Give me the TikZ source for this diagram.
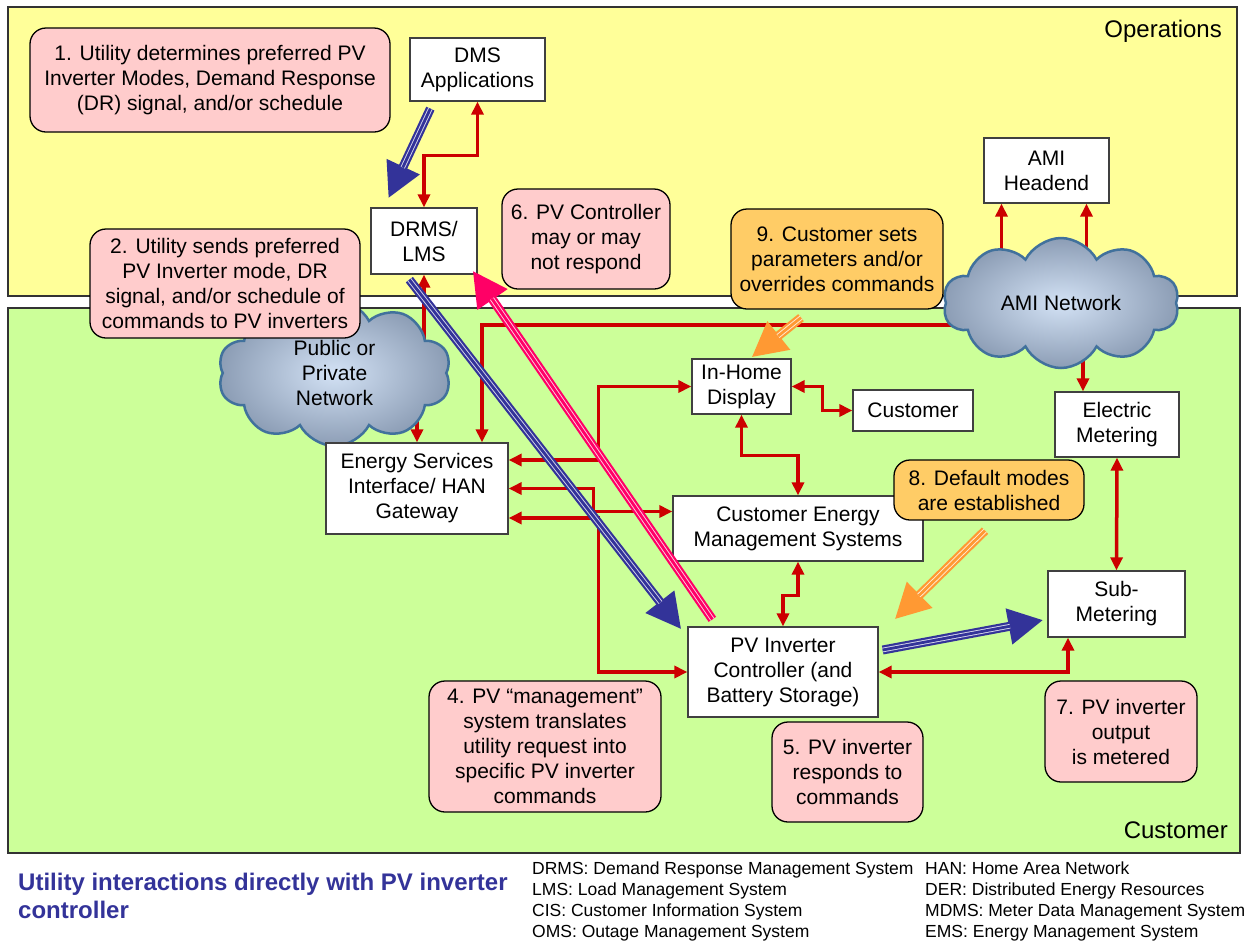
\documentclass[tikz,border=0pt]{standalone}
\usepackage{fontspec}
\setmainfont{Liberation Sans}
\usetikzlibrary{calc,arrows.meta,shapes.symbols}

\definecolor{opyellow}{HTML}{FFFF99}
\definecolor{cugreen}{HTML}{CCFF99}
\definecolor{notepink}{HTML}{FFCCCC}
\definecolor{steporange}{HTML}{FFCC66}
\definecolor{linkred}{HTML}{CC0000}
\definecolor{pushblue}{HTML}{333399}
\definecolor{replymag}{HTML}{FF0066}
\definecolor{userorange}{HTML}{FF9933}
\definecolor{cloudedge}{HTML}{41719C}
\definecolor{cloudlight}{HTML}{D3E2F5}
\definecolor{clouddark}{HTML}{8C9DB5}

\pgfdeclarelayer{back}
\pgfdeclarelayer{links}
\pgfsetlayers{back,links,main}

\def\triarrow[#1](#2)(#3){%
  \draw[line width=9pt, color=#1, -{Triangle[length=35pt,width=34pt]}] (#2) -- (#3);
  \draw[line width=4.6pt, color=white!80!#1, shorten >=34pt] (#2) -- (#3);
  \draw[line width=2.8pt, color=#1, shorten >=34pt] (#2) -- (#3);}

\begin{document}
\begin{tikzpicture}[x=1pt, y=-1pt,
    >={Triangle[length=13pt,width=12pt]},
    conn/.style={draw=linkred, line width=3.5pt},
    box/.style={draw=black!75, fill=white, line width=1.3pt, inner sep=0pt, align=center, font=\fontsize{21}{25}\selectfont},
    note/.style={box, fill=notepink, draw=black, rounded corners=16pt},
    task/.style={note, fill=steporange},
    cloudnet/.style={cloud, cloud puffs=10, cloud puff arc=125, cloud ignores aspect, draw=cloudedge, line width=2.5pt, inner color=cloudlight, outer color=clouddark, inner sep=0pt, align=center, font=\fontsize{21}{25}\selectfont},
    region/.style={draw=black!80, line width=1.5pt}]

    %%%%% FRAME %%%%%
    \useasboundingbox (0,0) rectangle (1247,943);

    \begin{pgfonlayer}{back}
        \draw[region, fill=opyellow] (8,7) rectangle (1237,296);
        \draw[region, fill=cugreen] (8,308) rectangle (1240,853);
        \node[anchor=east, inner sep=0pt, font=\fontsize{24}{28}\selectfont] (oplabel) at (1222,31) {Operations};
        \node[anchor=east, inner sep=0pt, font=\fontsize{24}{28}\selectfont] (culabel) at (1228,830) {Customer};
    \end{pgfonlayer}

    %%%%% OPERATIONS %%%%%
    \node[note, minimum width=360pt, minimum height=104pt] (step1) at (210,80) {1. Utility determines preferred PV\\Inverter Modes, Demand Response\\(DR) signal, and/or schedule};
    \node[box, minimum width=135pt, minimum height=63pt] (dms) at (477.5,69.5) {DMS\\Applications};
    \node[box, minimum width=106pt, minimum height=66pt] (drms) at (424,241) {DRMS/\\LMS};
    \node[note, minimum width=168pt, minimum height=100pt] (step6) at (586,239) {6. PV Controller\\may or may\\not respond};
    \node[box, minimum width=125pt, minimum height=65pt] (headend) at (1046.5,170.5) {AMI\\Headend};

    %%%%% CLOUDS %%%%%
    \node[cloudnet, minimum width=236pt, minimum height=130pt] (ami) at (1061,303) {AMI Network};
    \node[cloudnet, minimum width=233pt, minimum height=146pt] (pubnet) at (334.5,373) {Public or\\Private\\Network};

    \node[note, minimum width=270pt, minimum height=109pt] (step2) at (225,283.5) {2. Utility sends preferred\\PV Inverter mode, DR\\signal, and/or schedule of\\commands to PV inverters};
    \node[task, minimum width=212pt, minimum height=100pt] (step9) at (837,259) {9. Customer sets\\parameters and/or\\overrides commands};

    %%%%% CUSTOMER %%%%%
    \node[box, minimum width=182pt, minimum height=91pt] (esi) at (417,488.5) {Energy Services\\Interface/ HAN\\Gateway};
    \node[box, minimum width=99pt, minimum height=55pt] (ihd) at (741.5,386.5) {In-Home\\Display};
    \node[box, minimum width=120pt, minimum height=41pt] (cust) at (913,410.5) {Customer};
    \node[box, minimum width=124pt, minimum height=65pt] (em) at (1117,424.5) {Electric\\Metering};
    \node[box, minimum width=250pt, minimum height=65pt] (cems) at (798,528.5) {Customer Energy\\Management Systems};
    \node[task, minimum width=190pt, minimum height=60pt] (step8) at (989,490) {8. Default modes\\are established};
    \node[box, minimum width=137pt, minimum height=66pt] (subm) at (1116.5,604) {Sub-\\Metering};
    \node[box, minimum width=190pt, minimum height=90pt] (pv) at (783,672) {PV Inverter\\Controller (and\\Battery Storage)};
    \node[note, minimum width=232pt, minimum height=131pt] (step4) at (545,746.5) {4. PV “management”\\system translates\\utility request into\\specific PV inverter\\commands};
    \node[note, minimum width=151pt, minimum height=100pt] (step5) at (847.5,772) {5. PV inverter\\responds to\\commands};
    \node[note, minimum width=152pt, minimum height=101pt] (step7) at (1121,731.5) {7. PV inverter\\output\\is metered};

    %%%%% RED LINKS %%%%%
    \begin{pgfonlayer}{links}
        \draw[conn, <->] (dms.south) -- ++(0,54) -| (drms.north);
        \draw[conn, <->] (drms.south) -- ++(0,106) -| (esi.north);
        \draw[conn, ->] ($(ami.center)+(-40,22)$) -| ($(esi.north)+(65,0)$);
        \draw[conn, <->] ($(esi.east)+(0,-28.5)$) -- ++(90,0) |- (ihd.west);
        \draw[conn, <->] (esi.east) -- ++(85,0) |- ($(cems.west)+(0,-17)$);
        \draw[conn, <->] ($(esi.east)+(0,29.5)$) -- ++(90,0) |- (pv.west);
        \draw[conn, <->] (ihd.east) -- ++(31,0) |- (cust.west);
        \draw[conn, <->] (ihd.south) -- ++(0,41) -| (cems.north);
        \draw[conn, <->] (cems.south) -- ++(0,34) -| (pv.north);
        \draw[conn, ->] ($(headend.south)+(-45,60)$) -- ($(headend.south)+(-45,0)$);
        \draw[conn, ->] ($(headend.south)+(40,60)$) -- ($(headend.south)+(40,0)$);
        \draw[conn, ->] ($(em.north)+(-34,-40)$) -- ($(em.north)+(-34,0)$);
        \draw[conn, <->] (em.south) -- (subm.north);
        \draw[conn, <->] (pv.east) -| ($(subm.south)+(-48.5,0)$);
    \end{pgfonlayer}

    %%%%% TRIPLE ARROWS %%%%%
    \coordinate (dmsout) at ($(dms.south west)+(21,7)$);
    \coordinate (drmsin) at ($(drms.north west)+(18,-9)$);
    \coordinate (drmsout) at ($(drms.south west)+(39,5)$);
    \coordinate (pvin) at ($(pv.north west)+(-6,3)$);
    \coordinate (pvreply) at ($(pv.north west)+(25,-7)$);
    \coordinate (drmsreply) at ($(drms.south east)+(-5,-4)$);
    \coordinate (pvout) at ($(pv.east)+(4,-22)$);
    \coordinate (submin) at ($(subm.west)+(-4,16)$);
    \coordinate (setout) at ($(step9.south)+(-36,8)$);
    \coordinate (ihdin) at ($(ihd.north)+(10,-1)$);
    \coordinate (modeout) at ($(step8.south)+(-4,10)$);
    \coordinate (pvmode) at ($(pv.north east)+(16,-7)$);

    \triarrow[pushblue](dmsout)(drmsin)
    \triarrow[pushblue](drmsout)(pvin)
    \triarrow[replymag](pvreply)(drmsreply)
    \triarrow[pushblue](pvout)(submin)
    \triarrow[userorange](setout)(ihdin)
    \triarrow[userorange](modeout)(pvmode)

    %%%%% CAPTION %%%%%
    \node[anchor=north west, inner sep=0pt, align=left, text=pushblue, font=\fontsize{24}{28}\selectfont\bfseries] (title) at (18,873) {Utility interactions directly with PV inverter\\controller};
    \node[anchor=north west, inner sep=0pt, align=left, font=\fontsize{17.5}{21}\selectfont] (abbrleft) at (532,862) {DRMS: Demand Response Management System\\LMS: Load Management System\\CIS: Customer Information System\\OMS: Outage Management System};
    \node[anchor=north west, inner sep=0pt, align=left, font=\fontsize{17.5}{21}\selectfont] (abbrright) at (925,862) {HAN: Home Area Network\\DER: Distributed Energy Resources\\MDMS: Meter Data Management System\\EMS: Energy Management System};

\end{tikzpicture}
\end{document}
